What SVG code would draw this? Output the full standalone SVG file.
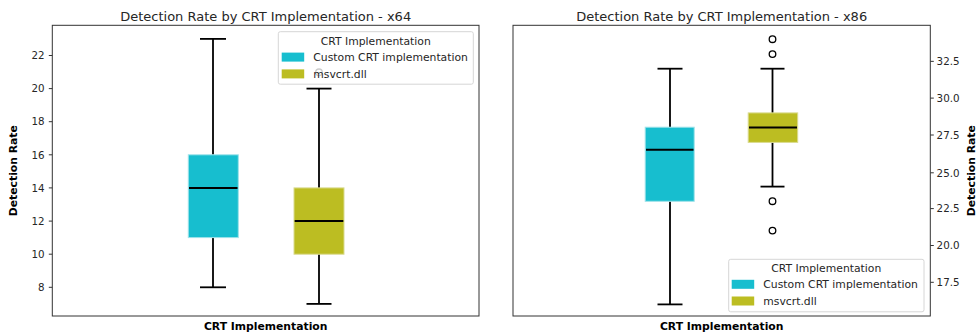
<svg xmlns="http://www.w3.org/2000/svg" width="978" height="336" viewBox="0 0 978 336">
  <style>
    text { font-family: "DejaVu Sans", "Liberation Sans", sans-serif; fill: #262626; }
    .title { font-size: 13px; text-anchor: middle; }
    .axlabel { font-size: 10.8px; font-weight: bold; text-anchor: middle; fill: #000; }
    .tick { font-size: 10.3px; }
    .tickL { text-anchor: end; }
    .tickR { text-anchor: start; }
    .legtitle { font-size: 10.8px; text-anchor: middle; }
    .legtext { font-size: 10.8px; }
    .spine { fill: none; stroke: #333; stroke-width: 1; }
    .tickmark { stroke: #333; stroke-width: 1; }
    .whisker { stroke: #000; stroke-width: 1.8; fill: none; }
    .median { stroke: #000; stroke-width: 2; }
    .flier { fill: none; stroke: #000; stroke-width: 1.3; }
    .cyan { fill: #17becf; stroke: #9fe3ea; stroke-width: 1; }
    .olive { fill: #bcbd22; stroke: #dadb8f; stroke-width: 1; }
    .legframe { fill: #fff; fill-opacity: 0.8; stroke: #d6d6d6; stroke-width: 1; }
  </style>

  <!-- ===== x64 panel ===== -->
  <g id="panel-x64">
    <text class="title" x="265.7" y="20.5">Detection Rate by CRT Implementation - x64</text>

    <!-- y axis ticks -->
    <g id="x64-yaxis">
      <line class="tickmark" x1="48.8" y1="55.5" x2="52.3" y2="55.5"/>
      <line class="tickmark" x1="48.8" y1="88.6" x2="52.3" y2="88.6"/>
      <line class="tickmark" x1="48.8" y1="121.7" x2="52.3" y2="121.7"/>
      <line class="tickmark" x1="48.8" y1="154.8" x2="52.3" y2="154.8"/>
      <line class="tickmark" x1="48.8" y1="187.9" x2="52.3" y2="187.9"/>
      <line class="tickmark" x1="48.8" y1="221.1" x2="52.3" y2="221.1"/>
      <line class="tickmark" x1="48.8" y1="254.2" x2="52.3" y2="254.2"/>
      <line class="tickmark" x1="48.8" y1="287.3" x2="52.3" y2="287.3"/>
      <text class="tick tickL" x="44.5" y="59.2">22</text>
      <text class="tick tickL" x="44.5" y="92.3">20</text>
      <text class="tick tickL" x="44.5" y="125.4">18</text>
      <text class="tick tickL" x="44.5" y="158.5">16</text>
      <text class="tick tickL" x="44.5" y="191.6">14</text>
      <text class="tick tickL" x="44.5" y="224.8">12</text>
      <text class="tick tickL" x="44.5" y="257.9">10</text>
      <text class="tick tickL" x="44.5" y="291.0">8</text>
    </g>
    <text class="axlabel" transform="translate(16.5,170.7) rotate(-90)">Detection Rate</text>
    <text class="axlabel" x="265.7" y="329.6">CRT Implementation</text>

    <!-- Custom CRT implementation -->
    <g id="x64-custom">
      <line class="whisker" x1="213" y1="38.9" x2="213" y2="154.8"/>
      <line class="whisker" x1="213" y1="237.6" x2="213" y2="287.3"/>
      <line class="whisker" x1="200" y1="38.9" x2="226" y2="38.9"/>
      <line class="whisker" x1="200" y1="287.3" x2="226" y2="287.3"/>
      <rect class="cyan" x="188.3" y="154.8" width="50" height="82.8"/>
      <line class="median" x1="189" y1="187.9" x2="237.5" y2="187.9"/>
    </g>

    <!-- msvcrt.dll -->
    <g id="x64-msvcrt">
      <line class="whisker" x1="319" y1="88.6" x2="319" y2="187.9"/>
      <line class="whisker" x1="319" y1="254.2" x2="319" y2="303.9"/>
      <line class="whisker" x1="306.5" y1="88.6" x2="331.5" y2="88.6"/>
      <line class="whisker" x1="306.5" y1="303.9" x2="331.5" y2="303.9"/>
      <rect class="olive" x="294" y="187.9" width="50" height="66.3"/>
      <line class="median" x1="294.7" y1="221.1" x2="343.3" y2="221.1"/>
      <circle class="flier" cx="319" cy="72.3" r="3.3"/>
    </g>

    <rect class="spine" x="52.3" y="25.3" width="426.7" height="290.7"/>

    <g id="x64-legend">
      <rect class="legframe" x="278.3" y="31.7" width="195" height="52.5" rx="2"/>
      <text class="legtitle" x="375.8" y="44.8">CRT Implementation</text>
      <rect x="281.7" y="52.6" width="22.5" height="9" fill="#17becf"/>
      <rect x="281.7" y="69.4" width="22.5" height="9" fill="#bcbd22"/>
      <text class="legtext" x="313.3" y="60.8">Custom CRT implementation</text>
      <text class="legtext" x="313.3" y="77.5">msvcrt.dll</text>
    </g>
  </g>

  <!-- ===== x86 panel ===== -->
  <g id="panel-x86">
    <text class="title" x="721.7" y="20.5">Detection Rate by CRT Implementation - x86</text>

    <g id="x86-yaxis">
      <line class="tickmark" x1="930.3" y1="61.35" x2="933.8" y2="61.35"/>
      <line class="tickmark" x1="930.3" y1="98.1" x2="933.8" y2="98.1"/>
      <line class="tickmark" x1="930.3" y1="135.0" x2="933.8" y2="135.0"/>
      <line class="tickmark" x1="930.3" y1="172.8" x2="933.8" y2="172.8"/>
      <line class="tickmark" x1="930.3" y1="208.6" x2="933.8" y2="208.6"/>
      <line class="tickmark" x1="930.3" y1="245.5" x2="933.8" y2="245.5"/>
      <line class="tickmark" x1="930.3" y1="282.3" x2="933.8" y2="282.3"/>
      <text class="tick tickR" x="936.6" y="65.1">32.5</text>
      <text class="tick tickR" x="936.6" y="101.8">30.0</text>
      <text class="tick tickR" x="936.6" y="138.7">27.5</text>
      <text class="tick tickR" x="936.6" y="176.5">25.0</text>
      <text class="tick tickR" x="936.6" y="212.3">22.5</text>
      <text class="tick tickR" x="936.6" y="249.2">20.0</text>
      <text class="tick tickR" x="936.6" y="286.0">17.5</text>
    </g>
    <text class="axlabel" transform="translate(975,170.7) rotate(-90)">Detection Rate</text>
    <text class="axlabel" x="721.7" y="329.6">CRT Implementation</text>

    <!-- Custom CRT implementation -->
    <g id="x86-custom">
      <line class="whisker" x1="670" y1="68.7" x2="670" y2="127.2"/>
      <line class="whisker" x1="670" y1="201.3" x2="670" y2="304.4"/>
      <line class="whisker" x1="657.5" y1="68.7" x2="682.5" y2="68.7"/>
      <line class="whisker" x1="657.5" y1="304.4" x2="682.5" y2="304.4"/>
      <rect class="cyan" x="645.2" y="127.2" width="49" height="74.1"/>
      <line class="median" x1="646" y1="149.7" x2="693.5" y2="149.7"/>
    </g>

    <!-- msvcrt.dll -->
    <g id="x86-msvcrt">
      <line class="whisker" x1="772.5" y1="68.7" x2="772.5" y2="112.9"/>
      <line class="whisker" x1="772.5" y1="142.4" x2="772.5" y2="186.6"/>
      <line class="whisker" x1="760.5" y1="68.7" x2="784.5" y2="68.7"/>
      <line class="whisker" x1="760.5" y1="186.6" x2="784.5" y2="186.6"/>
      <rect class="olive" x="748.2" y="112.9" width="49.5" height="29.5"/>
      <line class="median" x1="749" y1="127.4" x2="797" y2="127.4"/>
      <circle class="flier" cx="772.5" cy="39.2" r="3.3"/>
      <circle class="flier" cx="772.5" cy="54.1" r="3.3"/>
      <circle class="flier" cx="772.5" cy="201.2" r="3.3"/>
      <circle class="flier" cx="772.5" cy="230.6" r="3.3"/>
    </g>

    <rect class="spine" x="513" y="25.3" width="417.3" height="290.7"/>

    <g id="x86-legend">
      <rect class="legframe" x="728.7" y="259.3" width="195.3" height="52.5" rx="2"/>
      <text class="legtitle" x="826.3" y="272.4">CRT Implementation</text>
      <rect x="731.7" y="279.8" width="22.5" height="9" fill="#17becf"/>
      <rect x="731.7" y="296.5" width="22.5" height="9" fill="#bcbd22"/>
      <text class="legtext" x="763.3" y="288.0">Custom CRT implementation</text>
      <text class="legtext" x="763.3" y="304.8">msvcrt.dll</text>
    </g>
  </g>
</svg>
